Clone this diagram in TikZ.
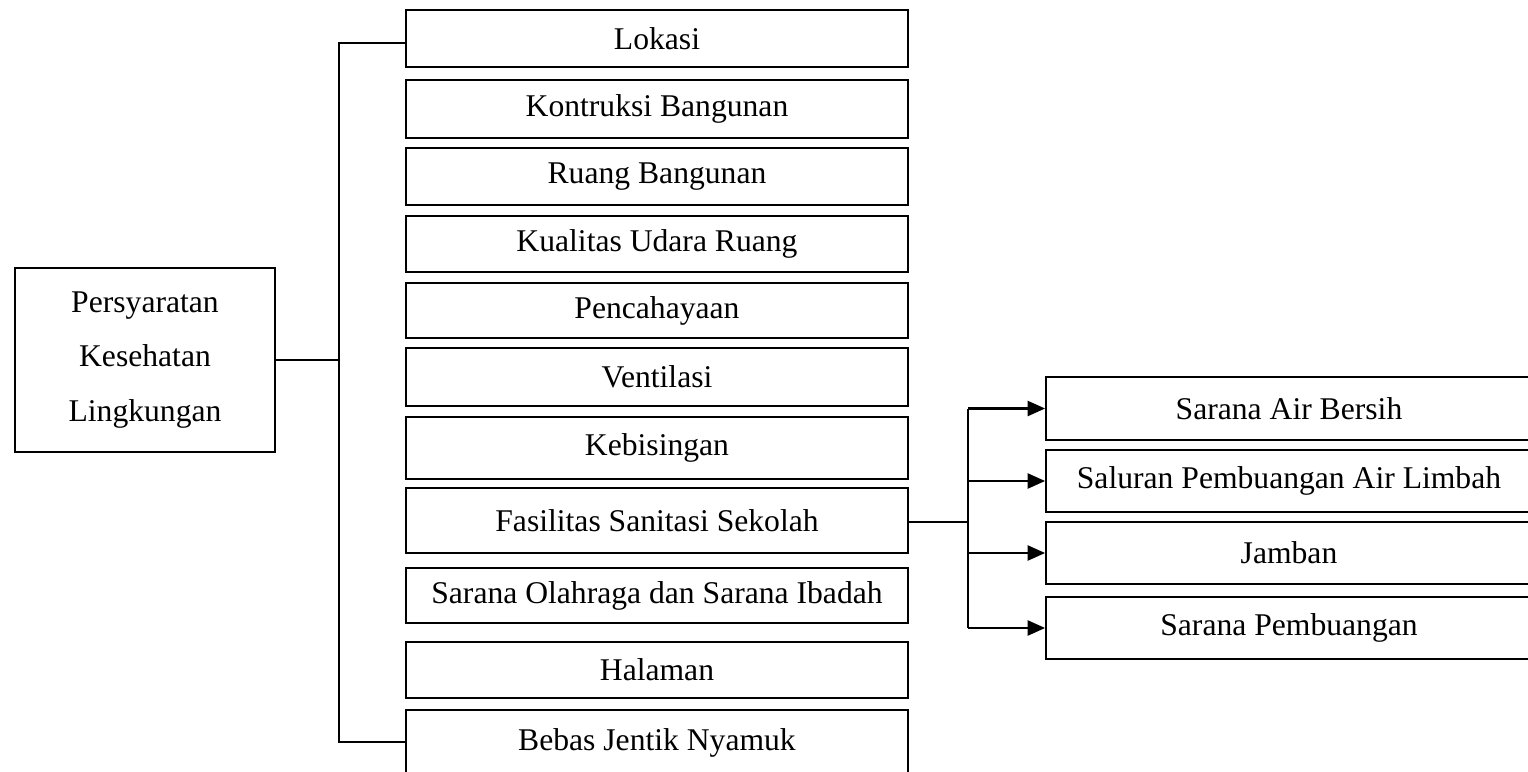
\documentclass[tikz,border=0pt]{standalone}
\usepackage{fontspec}
\setmainfont{Liberation Serif}
\usetikzlibrary{arrows.meta}

\tikzset{
  kotak/.style={draw, line width=1pt, minimum width=10.04cm, inner sep=2pt,
    font=\fontsize{18pt}{31pt}\selectfont},
  cabang/.style={draw, line width=1pt, minimum width=9.72cm, minimum height=1.25cm, inner sep=2pt,
    font=\fontsize{18pt}{31pt}\selectfont},
  garis/.style={line width=1pt},
  panah/.style={line width=1.5pt, -{Triangle[length=10pt,width=8.5pt]}}
}

\begin{document}
\begin{tikzpicture}[x=0.02cm,y=-0.02cm]

\useasboundingbox (0,0) rectangle (1528,771);

%\draw[help lines] (0,0) grid[step=100] (1528,771);

% akar
\node[draw, line width=1pt, minimum width=5.2cm, minimum height=3.68cm, align=center,
  font=\fontsize{18pt}{31pt}\selectfont] (akar) at (145,360)
  {Persyaratan\\Kesehatan\\Lingkungan};


% kolom tengah
\node[kotak, minimum height=1.14cm] (lokasi) at (657,38.5) {Lokasi};
\node[kotak, minimum height=1.16cm] (kontruksi) at (657,109) {Kontruksi Bangunan};
\node[kotak, minimum height=1.14cm] (ruang) at (657,176.5) {Ruang Bangunan};
\node[kotak, minimum height=1.12cm] (udara) at (657,244) {Kualitas Udara Ruang};
\node[kotak, minimum height=1.10cm] (cahaya) at (657,310.5) {Pencahayaan};
\node[kotak, minimum height=1.16cm] (ventilasi) at (657,377) {Ventilasi};
\node[kotak, minimum height=1.24cm] (bising) at (657,448) {Kebisingan};
\node[kotak, minimum height=1.30cm] (fasilitas) at (657,520.5) {Fasilitas Sanitasi Sekolah};
\node[kotak, minimum height=1.10cm] (olahraga) at (657,595.5) {Sarana Olahraga dan Sarana Ibadah};
\node[kotak, minimum height=1.12cm] (halaman) at (657,670) {Halaman};
\node[kotak, minimum height=1.30cm] (jentik) at (657,742.5) {Bebas Jentik Nyamuk};


% kolom kanan
\node[cabang] (air) at (1289,408.5) {Sarana Air Bersih};
\node[cabang] (limbah) at (1289,481) {Saluran Pembuangan Air Limbah};
\node[cabang] (jamban) at (1289,553) {Jamban};
\node[cabang] (buang) at (1289,628) {Sarana Pembuangan};


% garis penghubung
\coordinate (atas) at (339,43);
\coordinate (bawah) at (339,742);
\coordinate (simpul) at (968,522);

\draw[garis] (akar.east) -- (akar.east -| atas);
\draw[garis] (lokasi.west |- atas) -- (atas) -- (bawah) -- (jentik.west |- bawah);

\draw[garis] (fasilitas.east |- simpul) -- (simpul);
\draw[garis] (simpul |- air.west) -- (simpul |- buang.west);

\foreach \k in {air,limbah,jamban,buang}
  \draw[panah] (simpul |- \k.west) -- (\k.west);

\end{tikzpicture}
\end{document}
